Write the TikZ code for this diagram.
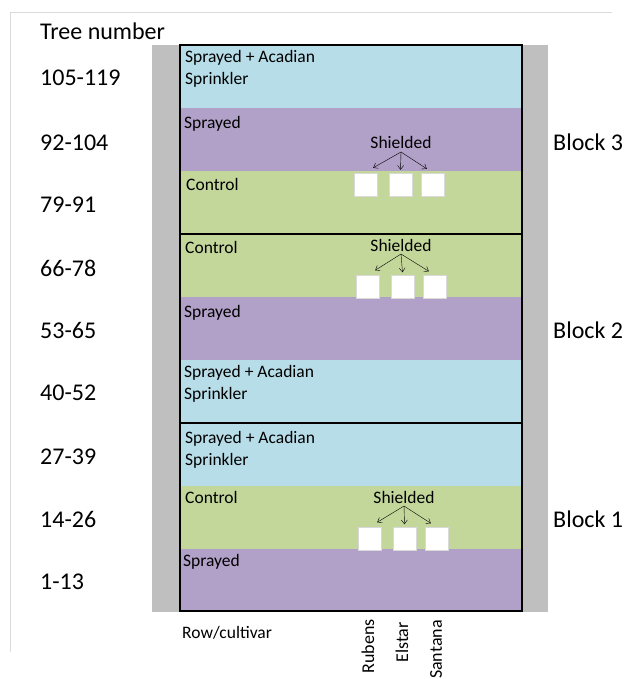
\documentclass[tikz,border=0pt]{standalone}
\usepackage{fontspec}
\setmainfont{Carlito}
\usetikzlibrary{positioning,arrows.meta}
\definecolor{acadian}{HTML}{B7DDE8}
\definecolor{sprayed}{HTML}{B1A0C7}
\definecolor{control}{HTML}{C4D79B}
\definecolor{sidegray}{HTML}{BFBFBF}
\tikzset{>={Straight Barb[length=4pt,width=6pt]}}

\begin{document}
\begin{tikzpicture}[x=1pt,y=-1pt,
  bandlabel/.style={anchor=base west,inner sep=0pt,font=\fontsize{17.5}{20}\selectfont},
  treelabel/.style={anchor=base west,inner sep=0pt,font=\fontsize{24}{28}\selectfont},
  cultivar/.style={anchor=east,rotate=90,inner sep=0pt,font=\fontsize{18}{20}\selectfont},
  shield/.style={draw=white!85!black,fill=white,minimum size=23pt,inner sep=0pt},
  blockline/.style={line width=1.5pt}]
\useasboundingbox (0,0) rectangle (624,679);
\draw[black!14] (10,652) -- (10,12) -- (612,12);
\fill[sidegray] (152,45) rectangle (548,612);
% block 3
\fill[acadian] (180,45) rectangle (522,108);
\fill[sprayed] (180,108) rectangle (522,171);
\fill[control] (180,171) rectangle (522,234);
% block 2
\fill[control] (180,234) rectangle (522,297);
\fill[sprayed] (180,297) rectangle (522,360);
\fill[acadian] (180,360) rectangle (522,423);
% block 1
\fill[acadian] (180,423) rectangle (522,486);
\fill[control] (180,486) rectangle (522,549);
\fill[sprayed] (180,549) rectangle (522,611);
\draw[blockline] (180,45) rectangle (522,611);
\draw[blockline] (180,234) -- (522,234);
\draw[blockline] (180,423) -- (522,423);

\node[bandlabel] (t3a) at (185,63) {Sprayed + Acadian};
\node[bandlabel] (t3b) at (185,85) {Sprinkler};
\node[bandlabel] (t3c) at (184,129) {Sprayed};
\node[bandlabel] (t3d) at (186,190) {Control};
\node[bandlabel] (t2a) at (185,253) {Control};
\node[bandlabel] (t2b) at (184,317) {Sprayed};
\node[bandlabel] (t2c) at (184,377) {Sprayed + Acadian};
\node[bandlabel] (t2d) at (184,399) {Sprinkler};
\node[bandlabel] (t1a) at (185,443) {Sprayed + Acadian};
\node[bandlabel] (t1b) at (185,465) {Sprinkler};
\node[bandlabel] (t1c) at (185,503) {Control};
\node[bandlabel] (t1d) at (183,566) {Sprayed};

\node[treelabel] (tn) at (40,40) {Tree number};
\foreach \y/\trees [count=\i] in {86/105-119,150/92-104,212/79-91,276/66-78,338/53-65,
    400/40-52,464/27-39,527/14-26,589/1-13}
  \node[treelabel] (tr\i) at (40,\y) {\trees};

\node[treelabel] (b3) at (553,150) {Block 3};
\node[treelabel] (b2) at (553,338) {Block 2};
\node[treelabel] (b1) at (553,527) {Block 1};

% shielded trees
\foreach \n/\x/\y in {3/0/184.5,2/2/287,1/4/539}{
  \node[shield] (r\n) at (365.5+\x,\y) {};
  \node[shield] (e\n) at (400.5+\x,\y) {};
  \node[shield] (s\n) at (432.5+\x,\y) {};
}
\node[bandlabel,anchor=base] (sh3) at (401,149) {Shielded};
\node[bandlabel,anchor=base] (sh2) at (401,251) {Shielded};
\node[bandlabel,anchor=base] (sh1) at (404,503) {Shielded};
\foreach \n in {3,2,1}{
  \coordinate (o\n) at ([yshift=-3pt]sh\n.base);
  \draw[->] (o\n) -- ([xshift=-4pt,yshift=5pt]r\n.north east);
  \draw[->] (o\n) -- ([yshift=3pt]e\n.north);
  \draw[->] (o\n) -- ([xshift=6pt,yshift=4pt]s\n.north west);
}

\node[bandlabel] (rc) at (182,638) {Row/cultivar};
\node[cultivar] (rub) at (368,619) {Rubens};
\node[cultivar] (els) at (402,622) {Elstar};
\node[cultivar] (san) at (436,620) {Santana};
\end{tikzpicture}
\end{document}
